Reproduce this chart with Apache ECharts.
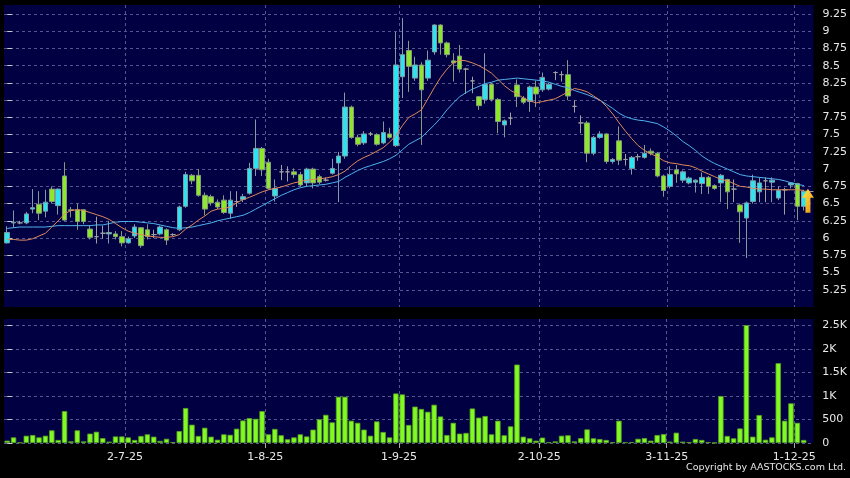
<!DOCTYPE html>
<html><head><meta charset="utf-8">
<script src="https://cdn.jsdelivr.net/npm/echarts@6/dist/echarts.min.js"></script>
<style>html,body{margin:0;padding:0;background:#000;}#c{width:850px;height:478px;}</style>
</head><body><div id="c"></div>
<script>
// [open, close, low, high]
const candles = [
[5.93,6.08,5.92,6.17],[6.22,6.23,6.15,6.40],[6.22,6.22,6.20,6.25],[6.22,6.35,6.20,6.38],[6.42,6.44,6.36,6.71],
[6.49,6.36,6.26,6.68],[6.39,6.52,6.30,6.70],[6.71,6.53,6.50,6.75],[6.47,6.71,6.34,6.72],[6.90,6.26,6.25,7.10],
[6.41,6.40,6.30,6.45],[6.41,6.24,6.12,6.50],[6.41,6.24,6.20,6.42],[6.13,6.01,5.98,6.18],[6.02,6.02,5.92,6.31],
[6.07,6.07,5.99,6.18],[6.06,6.08,5.92,6.25],[6.06,6.02,5.98,6.10],[6.02,5.93,5.88,6.10],[5.93,5.99,5.92,6.02],
[6.03,6.16,6.00,6.20],[6.15,5.89,5.86,6.16],[6.12,6.02,5.98,6.20],[6.05,6.05,6.00,6.12],[6.06,6.16,6.04,6.18],
[6.12,5.97,5.90,6.14],[6.05,6.05,6.03,6.07],[6.12,6.45,6.10,6.47],[6.46,6.92,6.44,6.96],[6.91,6.83,6.78,6.93],
[6.91,6.62,6.60,7.00],[6.62,6.42,6.33,6.66],[6.60,6.51,6.47,6.63],[6.52,6.45,6.42,6.56],[6.55,6.37,6.35,6.62],
[6.36,6.55,6.28,6.68],[6.53,6.53,6.45,6.68],[6.56,6.60,6.52,6.64],[6.65,7.01,6.63,7.09],[7.01,7.30,6.90,7.72],
[7.30,6.99,6.90,7.32],[7.10,6.72,6.70,7.15],[6.61,6.72,6.53,6.85],[6.96,6.96,6.84,7.06],[6.96,6.96,6.82,7.04],
[6.96,6.92,6.87,7.01],[6.92,6.77,6.75,6.96],[6.80,7.00,6.75,7.02],[7.00,6.80,6.72,7.02],[6.89,6.81,6.78,6.92],
[6.84,6.84,6.82,6.88],[6.94,7.01,6.92,7.15],[7.09,7.19,6.52,7.25],[7.19,7.90,7.15,8.11],[7.90,7.46,7.44,7.92],
[7.46,7.36,7.33,7.50],[7.38,7.51,7.35,7.55],[7.51,7.51,7.48,7.54],[7.50,7.36,7.34,7.52],[7.38,7.53,7.36,7.69],
[7.51,7.46,7.44,7.60],[7.34,8.51,7.32,8.99],[8.34,8.66,8.03,9.19],[8.72,8.49,8.12,8.86],[8.32,8.51,8.28,8.63],
[8.51,8.15,7.35,8.55],[8.32,8.58,8.28,8.72],[8.70,9.09,8.66,9.10],[9.09,8.83,8.66,9.10],[8.83,8.66,8.62,8.85],
[8.57,8.54,8.27,8.68],[8.64,8.45,8.40,8.80],[8.45,8.45,8.09,8.47],[8.28,8.28,8.10,8.34],[8.05,7.92,7.86,8.06],
[8.01,8.23,7.95,8.68],[8.23,8.01,7.98,8.25],[8.01,7.69,7.52,8.03],[7.64,7.70,7.46,7.72],[7.74,7.74,7.64,7.82],
[8.22,8.05,7.90,8.30],[8.03,7.97,7.94,8.06],[7.98,8.19,7.83,8.21],[8.19,8.09,7.90,8.28],[8.15,8.33,8.12,8.40],
[8.16,8.23,8.14,8.25],[8.40,8.40,8.29,8.42],[8.37,8.37,8.27,8.42],[8.37,8.06,8.00,8.58],[7.91,7.91,7.82,8.00],
[7.67,7.67,7.52,7.78],[7.67,7.23,7.10,7.70],[7.23,7.46,7.20,7.48],[7.46,7.51,7.44,7.55],[7.51,7.11,7.08,7.52],
[7.11,7.14,7.08,7.16],[7.41,7.13,7.06,7.62],[7.14,7.14,7.05,7.22],[7.01,7.17,6.92,7.19],[7.18,7.18,7.12,7.22],
[7.17,7.23,7.15,7.35],[7.26,7.23,7.20,7.30],[7.23,6.90,6.88,7.25],[6.90,6.69,6.60,6.92],[6.75,6.92,6.72,7.04],
[6.99,6.93,6.80,7.06],[6.84,6.96,6.80,6.98],[6.80,6.87,6.78,6.89],[6.81,6.84,6.66,6.85],[6.79,6.88,6.64,6.95],
[6.88,6.75,6.64,6.90],[6.76,6.72,6.70,6.78],[6.80,6.91,6.52,6.93],[6.85,6.67,6.42,6.86],[6.71,6.71,6.52,6.85],
[6.48,6.38,5.93,6.50],[6.29,6.51,5.71,6.53],[6.53,6.83,6.50,6.92],[6.67,6.80,6.52,6.88],[6.83,6.83,6.52,6.88],
[6.81,6.84,6.52,6.88],[6.58,6.69,6.55,6.75],[6.70,6.70,6.34,6.73],[6.77,6.80,6.72,6.81],[6.79,6.46,6.26,6.80],
[6.46,6.68,6.40,6.70]
];
const volumes = [
50,120,10,155,170,120,155,270,65,680,
35,270,35,200,240,105,30,140,140,120,
65,150,185,135,45,90,20,255,745,390,
150,325,135,70,185,175,305,480,530,515,
680,185,300,165,80,120,185,140,285,505,
600,440,985,985,475,430,285,155,460,235,
120,1055,1035,385,775,725,665,815,565,170,
430,200,215,735,540,575,185,475,165,355,
1670,135,100,50,115,15,35,155,165,35,
105,290,100,85,65,15,475,15,20,90,
105,50,170,190,30,220,30,20,85,65,
20,5,1000,150,100,310,2510,135,595,70,
120,1700,475,845,430,65
];
const maShort = [
5.98,5.98,5.97,5.97,5.99,6.03,6.07,6.16,6.25,6.35,
6.40,6.41,6.40,6.37,6.34,6.31,6.27,6.21,6.15,6.10,
6.07,6.05,6.03,6.02,6.01,6.01,6.02,6.05,6.13,6.19,
6.26,6.32,6.39,6.42,6.43,6.45,6.51,6.56,6.59,6.63,
6.67,6.70,6.72,6.74,6.77,6.80,6.82,6.84,6.85,6.86,
6.87,6.89,6.92,6.97,7.05,7.12,7.17,7.21,7.26,7.31,
7.39,7.49,7.63,7.75,7.80,7.86,8.02,8.18,8.33,8.45,
8.54,8.58,8.57,8.54,8.50,8.45,8.39,8.30,8.21,8.14,
8.09,8.03,7.99,7.96,7.98,8.00,8.02,8.07,8.12,8.17,
8.15,8.12,8.06,8.00,7.91,7.80,7.67,7.55,7.44,7.34,
7.27,7.22,7.18,7.12,7.09,7.08,7.06,7.05,7.02,6.97,
6.93,6.89,6.85,6.83,6.79,6.75,6.74,6.72,6.71,6.71,
6.70,6.70,6.70,6.70,6.70,6.69
];
const maLong = [
6.14,6.15,6.16,6.16,6.16,6.16,6.16,6.17,6.18,6.18,
6.18,6.18,6.18,6.18,6.19,6.19,6.21,6.23,6.24,6.24,
6.24,6.23,6.22,6.21,6.19,6.17,6.15,6.14,6.15,6.16,
6.18,6.20,6.22,6.25,6.27,6.29,6.31,6.33,6.37,6.42,
6.47,6.52,6.57,6.62,6.66,6.70,6.73,6.75,6.76,6.77,
6.78,6.80,6.82,6.88,6.93,6.98,7.02,7.05,7.08,7.11,
7.15,7.20,7.28,7.36,7.41,7.46,7.55,7.64,7.74,7.86,
7.96,8.05,8.11,8.16,8.20,8.24,8.26,8.29,8.30,8.31,
8.32,8.31,8.30,8.29,8.28,8.26,8.23,8.20,8.18,8.14,
8.11,8.08,8.04,8.00,7.94,7.88,7.81,7.76,7.73,7.71,
7.70,7.68,7.66,7.61,7.55,7.48,7.40,7.34,7.27,7.19,
7.13,7.08,7.04,7.00,6.96,6.92,6.90,6.89,6.88,6.87,
6.86,6.85,6.83,6.80,6.78,6.76
];
const priceTicks = ['5.25','5.5','5.75','6','6.25','6.5','6.75','7','7.25','7.5','7.75','8','8.25','8.5','8.75','9','9.25'];
const volTicks = [0,500,1000,1500,2000,2500];
const volTickLabels = ['0','500','1K','1.5K','2K','2.5K'];
const dateTicks = ['2-7-25','1-8-25','1-9-25','2-10-25','3-11-25','1-12-25'];
const dateTickIndex = [19,41,62,84,104,124];

const FONT = 'DejaVu Sans';
const n = candles.length;
const xMin = -0.5, xMax = n + 0.5;
const xCustom = dateTickIndex.map(i => i - 0.5);
const priceVals = priceTicks.map(Number);
const gridLine = {show:true, lineStyle:{color:'#55558f', type:[3,3], width:1}};
const lab = (vals, texts) => v => { const k = vals.findIndex(p => Math.abs(p - v) < 1e-6); return k >= 0 ? texts[k] : ''; };
const last = candles[n-1];

const chart = echarts.init(document.getElementById('c'), null, {renderer:'canvas'});
chart.setOption({
  backgroundColor:'#000',
  animation:false,
  title:{text:'Copyright by AASTOCKS.com Ltd.', right:-1, bottom:0,
    textStyle:{color:'#e6e6e6', fontSize:9.5, fontWeight:'normal', fontFamily:FONT}},
  grid:[
    {left:4, right:35, top:5, height:302, show:true, backgroundColor:'#000042', borderWidth:0},
    {left:4, right:35, top:319, height:124, show:true, backgroundColor:'#000042', borderWidth:0}
  ],
  xAxis:[
    {type:'value', gridIndex:0, min:xMin, max:xMax, axisLine:{show:false},
     axisTick:{show:false, customValues:xCustom}, axisLabel:{show:false, customValues:xCustom}, splitLine:gridLine},
    {type:'value', gridIndex:1, min:xMin, max:xMax, axisLine:{show:false},
     axisTick:{show:true, customValues:xCustom, length:5, lineStyle:{color:'#aaaaaa'}},
     axisLabel:{customValues:xCustom, formatter:lab(xCustom, dateTicks), color:'#e8e8e8', fontSize:11, fontFamily:FONT, margin:9},
     splitLine:gridLine}
  ],
  yAxis:[
    {type:'value', gridIndex:0, position:'right', min:5, max:9.38, axisLine:{show:false},
     axisTick:{show:true, length:5, customValues:priceVals, lineStyle:{color:'#cccccc'}},
     axisLabel:{customValues:priceVals, formatter:lab(priceVals, priceTicks), color:'#e8e8e8', fontSize:11, fontFamily:FONT, margin:9},
     splitLine:gridLine},
    {type:'value', gridIndex:1, position:'right', min:0, max:2640, axisLine:{show:false},
     axisTick:{show:true, length:5, customValues:volTicks, lineStyle:{color:'#cccccc'}},
     axisLabel:{customValues:volTicks, formatter:lab(volTicks, volTickLabels), color:'#e8e8e8', fontSize:11, fontFamily:FONT, margin:9},
     splitLine:gridLine}
  ],
  series:[
    {type:'candlestick', xAxisIndex:0, yAxisIndex:0, barWidth:5,
     data:candles.map((d,i)=>[i,d[0],d[1],d[2],d[3]]), encode:{x:0, y:[1,2,3,4]},
     itemStyle:{color:'#2ae4f2', color0:'#8ee82a', borderColor:'#7f9ca4', borderColor0:'#869a80', borderColorDoji:'#a0a0a0', borderWidth:1},
     markPoint:{symbol:'path://M6,0L12,9L8.5,9L8.5,24L3.5,24L3.5,9L0,9Z', symbolSize:[12,24], symbolKeepAspect:false,
       label:{show:false}, silent:true,
       itemStyle:{color:{type:'linear',x:0,y:0,x2:1,y2:1,colorStops:[{offset:0,color:'#ffe64a'},{offset:1,color:'#e8960e'}]}},
       data:[{coord:[n-1, (last[1]+last[2])/2], symbolOffset:[4,0]}]},
     markLine:{symbol:['none','none'], silent:true, label:{show:false}, lineStyle:{color:'#9a9a9a', type:'solid', width:1},
       data:[[{coord:[n-1, last[1]]},{coord:[xMax, last[1]]}]]},
     z:2},
    {type:'line', xAxisIndex:0, yAxisIndex:0, data:maLong.map((v,i)=>[i,v]), showSymbol:false, symbol:'none',
     lineStyle:{color:'#4fb2ee', width:1}, z:3},
    {type:'line', xAxisIndex:0, yAxisIndex:0, data:maShort.map((v,i)=>[i,v]), showSymbol:false, symbol:'none',
     lineStyle:{color:'#e0895c', width:1}, z:4},
    {type:'bar', xAxisIndex:1, yAxisIndex:1, barWidth:5.4, data:volumes.map((v,i)=>[i,v]),
     itemStyle:{color:'#80fa22', borderColor:'#5aa024', borderWidth:0.8}}
  ]
});
</script></body></html>
